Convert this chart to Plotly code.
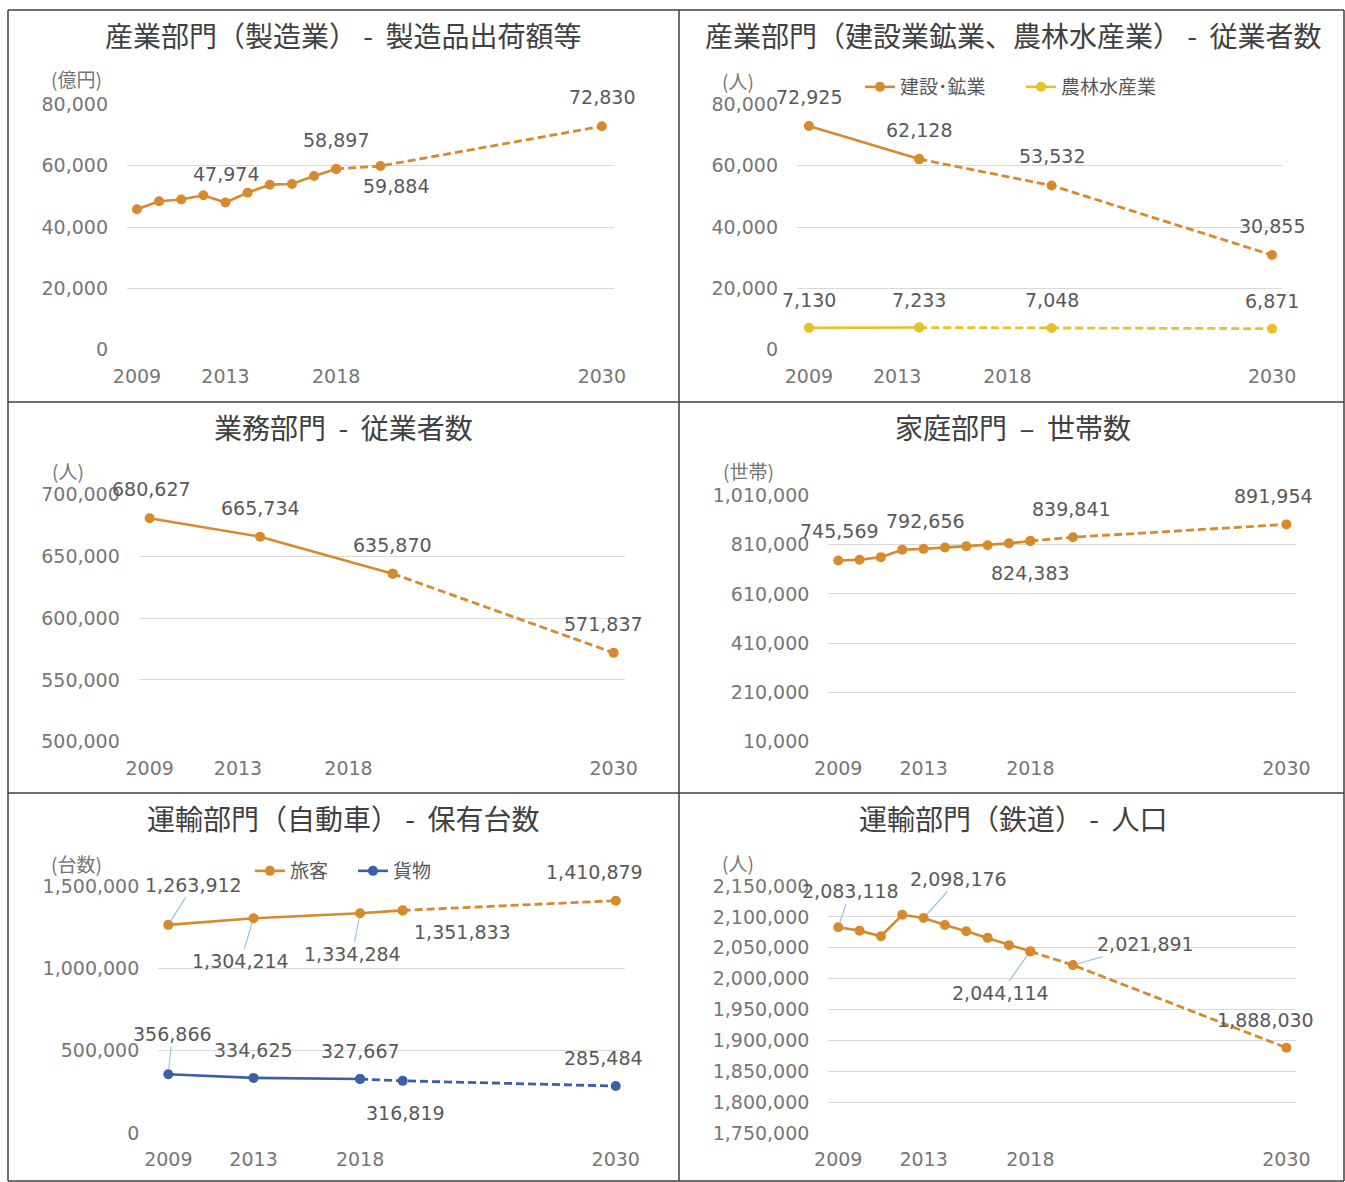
import plotly.graph_objects as go

W, H = 1345, 1182

# ---------------- data ----------------
x_ticks = [2009, 2013, 2018, 2030]

p1_years = [2009, 2010, 2011, 2012, 2013, 2014, 2015, 2016, 2017, 2018, 2020, 2030]
p1_values = [45800, 48400, 48950, 50350, 47974, 51200, 53800, 54000, 56600, 58897, 59884, 72830]

p2_years = [2009, 2014, 2020, 2030]
p2_construction = [72925, 62128, 53532, 30855]
p2_agri = [7130, 7233, 7048, 6871]

p3_years = [2009, 2014, 2020, 2030]
p3_values = [680627, 665734, 635870, 571837]

p4_years = [2009, 2010, 2011, 2012, 2013, 2014, 2015, 2016, 2017, 2018, 2020, 2030]
p4_values = [745569, 748300, 759000, 789000, 792656, 798000, 803000, 807000, 815000, 824383, 839841, 891954]

p5_years = [2009, 2013, 2018, 2020, 2030]
p5_passenger = [1263912, 1304214, 1334284, 1351833, 1410879]
p5_freight = [356866, 334625, 327667, 316819, 285484]

p6_years = [2009, 2010, 2011, 2012, 2013, 2014, 2015, 2016, 2017, 2018, 2020, 2030]
p6_values = [2083118, 2077700, 2068600, 2103400, 2098176, 2086800, 2076700, 2066000, 2054200, 2044114, 2021891, 1888030]

titles = [
    "産業部門（製造業） -  製造品出荷額等",
    "産業部門（建設業鉱業、農林水産業） -  従業者数",
    "業務部門  -  従業者数",
    "家庭部門  –  世帯数",
    "運輸部門（自動車） -  保有台数",
    "運輸部門（鉄道） -  人口",
]
units = ["(億円)", "(人)", "(人)", "(世帯)", "(台数)", "(人)"]
legend2_names = ["建設･鉱業", "農林水産業"]
legend5_names = ["旅客", "貨物"]

# ---------------- style ----------------
ORANGE = "#D68A2C"
YELLOW = "#E3C22B"
BLUE = "#3C5FA5"
LEADER = "#9DC3E6"
GRID = "#D9D9D9"
TICK_C = "#767676"
LABEL_C = "#595959"
NUM_FONT = "DejaVu Sans, Noto Sans CJK JP"
CJK_FONT = "Noto Sans CJK JP, DejaVu Sans"

def px_x(p):
    return p / W

def px_y(p):
    return 1 - p / H

# plot areas in pixels: (x0, x1, ytop, ybottom), x range, y range, y dtick, y tick0
panels = [
    dict(box=(127, 614, 103.3, 350.7), xr=[2008.55, 2030.55], yr=[0, 80000], dtick=20000, tick0=0),
    dict(box=(797, 1282, 103.3, 350.7), xr=[2008.46, 2030.45], yr=[0, 80000], dtick=20000, tick0=0),
    dict(box=(138.8, 624.5, 493.3, 742.7), xr=[2008.51, 2030.49], yr=[500000, 700000], dtick=50000, tick0=500000),
    dict(box=(828.4, 1295.8, 494.3, 742.7), xr=[2008.54, 2030.44], yr=[10000, 1010000], dtick=200000, tick0=10000),
    dict(box=(158.3, 624.5, 885, 1134), xr=[2008.53, 2030.41], yr=[0, 1500000], dtick=500000, tick0=0),
    dict(box=(828.4, 1295.8, 885, 1134), xr=[2008.54, 2030.44], yr=[1750000, 2150000], dtick=50000, tick0=1750000),
]

fig = go.Figure()
layout = {}
for i, p in enumerate(panels):
    k = "" if i == 0 else str(i + 1)
    x0, x1, yt, yb = p["box"]
    span = p["yr"][1] - p["yr"][0]
    layout["xaxis" + k] = dict(
        domain=[px_x(x0), px_x(x1)], range=p["xr"], anchor="y" + k,
        tickvals=x_ticks, showgrid=False, zeroline=False, showline=False,
        tickfont=dict(family=NUM_FONT, size=19, color=TICK_C), ticks="",
        ticklabelstandoff=12, fixedrange=True, automargin=False,
    )
    layout["yaxis" + k] = dict(
        domain=[px_y(yb), px_y(yt)],
        range=[p["yr"][0] - span * 0.004, p["yr"][1] + span * 0.004],
        anchor="x" + k, tick0=p["tick0"], dtick=p["dtick"], tickformat=",d",
        showgrid=True, gridcolor=GRID, gridwidth=1.2, zeroline=False, showline=False,
        tickfont=dict(family=NUM_FONT, size=19, color=TICK_C), ticks="",
        ticklabelstandoff=18, fixedrange=True, automargin=False,
    )

def axes(i):
    k = "" if i == 0 else str(i + 1)
    return "x" + k, "y" + k

def add_series(i, years, values, solid_end, color, name=None, legend=None):
    xa, ya = axes(i)
    fig.add_trace(go.Scatter(
        x=years[:solid_end + 1], y=values[:solid_end + 1], mode="lines+markers",
        line=dict(color=color, width=2.6), marker=dict(color=color, size=10),
        xaxis=xa, yaxis=ya, name=name or "", showlegend=legend is not None,
        legend=legend or "legend", hoverinfo="skip",
    ))
    fig.add_trace(go.Scatter(
        x=years[solid_end:], y=values[solid_end:], mode="lines+markers",
        line=dict(color=color, width=2.8, dash="8px,4px"), marker=dict(color=color, size=10),
        xaxis=xa, yaxis=ya, showlegend=False, hoverinfo="skip",
    ))

annotations = []

def add_labels(i, years, values, specs):
    xa, ya = axes(i)
    for idx, dx, dy, leader in specs:
        annotations.append(dict(
            x=years[idx], y=values[idx], xref=xa, yref=ya,
            text=f"{values[idx]:,}", showarrow=True, ax=dx, ay=dy,
            arrowhead=0, arrowwidth=1.2, standoff=5,
            arrowcolor=LEADER if leader else "rgba(0,0,0,0)",
            font=dict(family=NUM_FONT, size=19, color=LABEL_C),
        ))

# Panel 1
add_series(0, p1_years, p1_values, 9, ORANGE)
add_labels(0, p1_years, p1_values, [(4, 0, -29, False), (9, 0, -29, False), (10, 16, 20, False), (11, 0, -29, False)])
# Panel 2
add_series(1, p2_years, p2_construction, 1, ORANGE, legend2_names[0], "legend")
add_series(1, p2_years, p2_agri, 1, YELLOW, legend2_names[1], "legend")
add_labels(1, p2_years, p2_construction, [(0, 0, -29, False), (1, 0, -29, False), (2, 0, -29, False), (3, 0, -29, False)])
add_labels(1, p2_years, p2_agri, [(0, 0, -28, False), (1, 0, -28, False), (2, 0, -28, False), (3, 0, -28, False)])
# Panel 3
add_series(2, p3_years, p3_values, 2, ORANGE)
add_labels(2, p3_years, p3_values, [(0, 2, -29, False), (1, 0, -29, False), (2, 0, -29, False), (3, -10, -29, False)])
# Panel 4
add_series(3, p4_years, p4_values, 9, ORANGE)
add_labels(3, p4_years, p4_values, [(0, 1, -29, False), (4, 2, -28, False), (9, 0, 32, False), (10, -1, -28, False), (11, -13, -28, False)])
# Panel 5
add_series(4, p5_years, p5_passenger, 3, ORANGE, legend5_names[0], "legend2")
add_series(4, p5_years, p5_freight, 2, BLUE, legend5_names[1], "legend2")
add_labels(4, p5_years, p5_passenger, [(0, 25, -40, True), (1, -13, 43, True), (2, -8, 41, True), (3, 60, 22, False), (4, -21, -29, False)])
add_labels(4, p5_years, p5_freight, [(0, 4, -40, True), (1, 0, -28, False), (2, 0, -28, False), (3, 3, 32, False), (4, -12, -28, False)])
# Panel 6
add_series(5, p6_years, p6_values, 9, ORANGE)
add_labels(5, p6_years, p6_values, [(0, 12, -36, True), (4, 35, -39, True), (9, -30, 42, True), (10, 73, -21, True), (11, -21, -28, False)])

# titles
title_pos = [(343.5, 35), (1013, 35), (343.5, 427), (1013, 427), (343.5, 818), (1013, 818)]
for t, (tx, ty) in zip(titles, title_pos):
    annotations.append(dict(
        x=px_x(tx), y=px_y(ty), xref="paper", yref="paper", text=t, showarrow=False,
        xanchor="center", yanchor="middle",
        font=dict(family=CJK_FONT, size=28, color="#404040"),
    ))

# unit labels
unit_pos = [(76, 79), (738, 80), (68, 471), (748, 471), (76, 863), (738, 862)]
for u, (ux, uy) in zip(units, unit_pos):
    annotations.append(dict(
        x=px_x(ux), y=px_y(uy), xref="paper", yref="paper", text=u, showarrow=False,
        xanchor="center", yanchor="middle",
        font=dict(family=CJK_FONT, size=19, color=TICK_C),
    ))

# frame lines
BORDER = "#3F3F3F"
shapes = []
def hline(y, x0, x1):
    shapes.append(dict(type="line", xref="paper", yref="paper", x0=px_x(x0), x1=px_x(x1),
                       y0=px_y(y), y1=px_y(y), line=dict(color=BORDER, width=1.5)))
def vline(x, y0, y1):
    shapes.append(dict(type="line", xref="paper", yref="paper", x0=px_x(x), x1=px_x(x),
                       y0=px_y(y0), y1=px_y(y1), line=dict(color=BORDER, width=1.5)))
for yy in (10, 402, 793, 1181):
    hline(yy, 8, 1344)
for xx in (8, 679, 1344):
    vline(xx, 10, 1181)

fig.update_layout(
    **layout,
    width=W, height=H, margin=dict(l=0, r=0, t=0, b=0, autoexpand=False),
    paper_bgcolor="white", plot_bgcolor="white",
    annotations=annotations, shapes=shapes,
    legend=dict(orientation="h", x=px_x(860), y=px_y(87), xanchor="left", yanchor="middle",
                font=dict(family=CJK_FONT, size=19, color=LABEL_C), bgcolor="rgba(0,0,0,0)",
                entrywidth=116, entrywidthmode="pixels", tracegroupgap=0),
    legend2=dict(orientation="h", x=px_x(250), y=px_y(871), xanchor="left", yanchor="middle",
                 font=dict(family=CJK_FONT, size=19, color=LABEL_C), bgcolor="rgba(0,0,0,0)",
                 entrywidth=58, entrywidthmode="pixels", tracegroupgap=0),
    showlegend=True,
)

fig.write_html(
    "out.html",
    post_script="document.body.style.margin='0px';document.body.style.padding='0px';",
)
